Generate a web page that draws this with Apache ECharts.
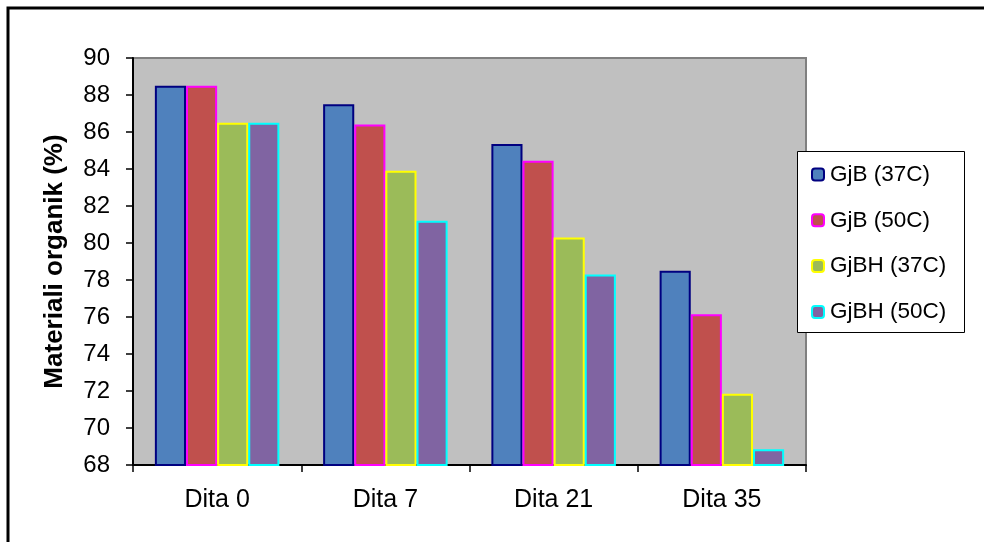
<!DOCTYPE html>
<html>
<head>
<meta charset="utf-8">
<script src="https://cdn.jsdelivr.net/npm/echarts@6/dist/echarts.min.js"></script>
<style>
html,body{margin:0;padding:0;background:#fff;}
#main{width:984px;height:542px;}
</style>
</head>
<body>
<div id="main"></div>
<script>
const categories = ['Dita 0', 'Dita 7', 'Dita 21', 'Dita 35'];
const seriesNames = ['GjB (37C)', 'GjB (50C)', 'GjBH (37C)', 'GjBH (50C)'];
const gjb37 = [88.5, 87.5, 85.35, 78.5];
const gjb50 = [88.5, 86.4, 84.45, 76.15];
const gjbh37 = [86.5, 83.9, 80.3, 71.85];
const gjbh50 = [86.5, 81.2, 78.3, 68.85];
const yTicks = {min: 68, max: 90, interval: 2};
const yTitle = 'Materiali organik (%)';

const fills = ['#4F81BD', '#C0504D', '#9BBB59', '#8064A2'];
const borders = ['#000080', '#FF00FF', '#FFFF00', '#00FFFF'];
const allData = [gjb37, gjb50, gjbh37, gjbh50];
const FONT = "'Liberation Sans', Arial, sans-serif";

const chart = echarts.init(document.getElementById('main'), null, {renderer: 'canvas'});
chart.setOption({
  animation: false,
  backgroundColor: '#ffffff',
  textStyle: {fontFamily: FONT},
  grid: {
    left: 133, right: 178, top: 58, bottom: 77,
    show: true, backgroundColor: '#C0C0C0', borderColor: '#808080', borderWidth: 2
  },
  graphic: [
    {type: 'rect', z: 100, shape: {x: 8, y: 8, width: 1000, height: 600},
     style: {fill: 'none', stroke: '#000', lineWidth: 3}},
    {type: 'rect', z: 100, shape: {x: 797.5, y: 151.5, width: 167, height: 181},
     style: {fill: '#fff', stroke: '#000', lineWidth: 1}}
  ],
  legend: {
    z: 120,
    orient: 'vertical',
    left: 811, top: 163,
    padding: 0,
    itemWidth: 12, itemHeight: 12,
    itemGap: 22.8,
    itemStyle: {borderWidth: 2},
    textStyle: {fontFamily: FONT, fontSize: 22.5, color: '#000', padding: [0,0,0,1]},
    data: seriesNames
  },
  xAxis: {
    type: 'category',
    data: categories,
    axisLine: {lineStyle: {color: '#000', width: 2}},
    axisTick: {show: true, length: 7, lineStyle: {color: '#000', width: 1.5}},
    axisLabel: {color: '#000', fontSize: 25, margin: 23, fontFamily: FONT}
  },
  yAxis: {
    type: 'value',
    min: yTicks.min, max: yTicks.max, interval: yTicks.interval,
    name: yTitle,
    nameLocation: 'middle',
    nameGap: 65,
    nameTextStyle: {color: '#000', fontSize: 26, fontWeight: 'bold', fontFamily: FONT},
    axisLine: {show: true, lineStyle: {color: '#000', width: 2}},
    axisTick: {show: true, length: 7, lineStyle: {color: '#000', width: 1.5}},
    axisLabel: {color: '#000', fontSize: 24, margin: 23, fontFamily: FONT},
    splitLine: {show: false}
  },
  series: seriesNames.map((n, i) => ({
    name: n,
    type: 'bar',
    data: allData[i],
    barGap: '0%',
    barCategoryGap: '26%',
    itemStyle: {color: fills[i], borderColor: borders[i], borderWidth: 2}
  }))
});
</script>
</body>
</html>
